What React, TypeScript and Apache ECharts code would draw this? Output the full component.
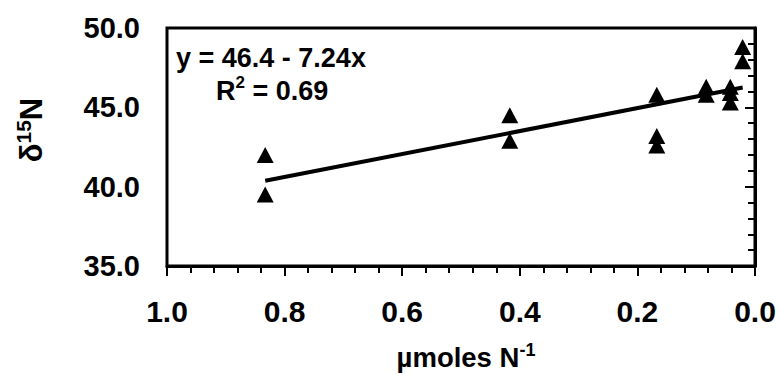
import React, { useEffect, useRef } from "react";
import * as echarts from "echarts";

// µmoles N^-1 (x) and δ15N (y) for each observation
const xValues = [0.833, 0.833, 0.417, 0.417, 0.167, 0.167, 0.167, 0.083, 0.083, 0.042, 0.042, 0.042, 0.021, 0.021];
const d15N = [42.0, 39.5, 44.5, 42.9, 45.8, 43.2, 42.6, 46.3, 45.8, 46.3, 45.9, 45.3, 48.8, 47.9];

// regression: y = 46.4 - 7.24x, R^2 = 0.69
const intercept = 46.4;
const slope = -7.24;
const fitX = [0.833, 0.021];

const xTicks = ["1.0", "0.8", "0.6", "0.4", "0.2", "0.0"];
const yTicks = ["35.0", "40.0", "45.0", "50.0"];

const FONT = "'Liberation Sans', Arial, sans-serif";

export default function App() {
  const ref = useRef<HTMLDivElement>(null);
  useEffect(() => {
    if (!ref.current) return;
    const chart = echarts.init(ref.current, null, { renderer: "svg" });
    const points = xValues.map((x, i) => [x, d15N[i]]);
    const fit = fitX.map((x) => [x, intercept + slope * x]);
    const supRich = (big: number, small: number, lh: number, up: number) => ({
      a: { fontFamily: FONT, fontWeight: "bold", fontSize: big, fill: "#000", color: "#000", lineHeight: lh, verticalAlign: "bottom" },
      s: { fontFamily: FONT, fontWeight: "bold", fontSize: small, fill: "#000", color: "#000", lineHeight: lh, verticalAlign: "top", padding: [0, 0, up, 0] },
    });
    chart.setOption({
      animation: false,
      backgroundColor: "#ffffff",
      textStyle: { fontFamily: FONT },
      grid: {
        left: 167,
        top: 28,
        right: 25,
        bottom: 108,
        show: true,
        borderColor: "#000",
        borderWidth: 3,
        backgroundColor: "transparent",
      },
      xAxis: {
        type: "value",
        inverse: true,
        min: 0,
        max: 1,
        interval: 0.2,
        axisLine: { show: true, lineStyle: { color: "#000", width: 3 } },
        axisTick: { show: true, inside: false, length: 10, lineStyle: { color: "#000", width: 2 } },
        minorTick: { show: true, splitNumber: 5, length: 7, lineStyle: { color: "#000", width: 2 } },
        splitLine: { show: false },
        axisLabel: {
          margin: 30,
          fontFamily: FONT,
          fontWeight: "bold",
          fontSize: 30,
          color: "#000",
          formatter: (v: number) => {
            const idx = Math.round((1 - v) / 0.2);
            return xTicks[idx] ?? v.toFixed(1);
          },
        },
      },
      yAxis: {
        type: "value",
        min: 35,
        max: 50,
        interval: 5,
        axisLine: { show: true, lineStyle: { color: "#000", width: 3 } },
        axisTick: { show: true, inside: false, length: 10, lineStyle: { color: "#000", width: 2 } },
        minorTick: { show: true, splitNumber: 5, length: 7, lineStyle: { color: "#000", width: 2 } },
        splitLine: { show: false },
        axisLabel: {
          margin: 27,
          fontFamily: FONT,
          fontWeight: "bold",
          fontSize: 29,
          color: "#000",
          formatter: (v: number) => {
            const idx = Math.round((v - 35) / 5);
            return yTicks[idx] ?? v.toFixed(1);
          },
        },
      },
      series: [
        {
          type: "line",
          data: fit,
          showSymbol: false,
          symbol: "none",
          lineStyle: { color: "#000", width: 4 },
          z: 2,
        },
        {
          type: "scatter",
          data: points,
          symbol: "triangle",
          symbolSize: [17, 16],
          itemStyle: { color: "#000", opacity: 1 },
          z: 3,
        },
      ],
      graphic: [
        {
          type: "text",
          left: 176,
          top: 44,
          style: {
            text: "y = 46.4 - 7.24x",
            font: `bold 27px ${FONT}`,
            fill: "#000",
          },
        },
        {
          type: "text",
          left: 216,
          top: 74,
          style: {
            text: "{a|R}{s|2}{a| = 0.69}",
            rich: supRich(27, 17, 30, 12),
          },
        },
        {
          type: "text",
          x: 466,
          y: 356,
          style: {
            text: "{a|µmoles N}{s|-1}",
            align: "center",
            verticalAlign: "middle",
            rich: supRich(27.5, 18, 31, 13),
          },
        },
        {
          type: "text",
          x: 30,
          y: 130,
          rotation: Math.PI / 2,
          style: {
            text: "{a|δ}{s|15}{a|N}",
            align: "center",
            verticalAlign: "middle",
            rich: supRich(31, 21, 34, 14),
          },
        },
      ],
    });
    return () => chart.dispose();
  }, []);
  return (
    <div
      ref={ref}
      style={{ position: "fixed", left: 0, top: 0, width: 780, height: 374, background: "#fff" }}
    />
  );
}
